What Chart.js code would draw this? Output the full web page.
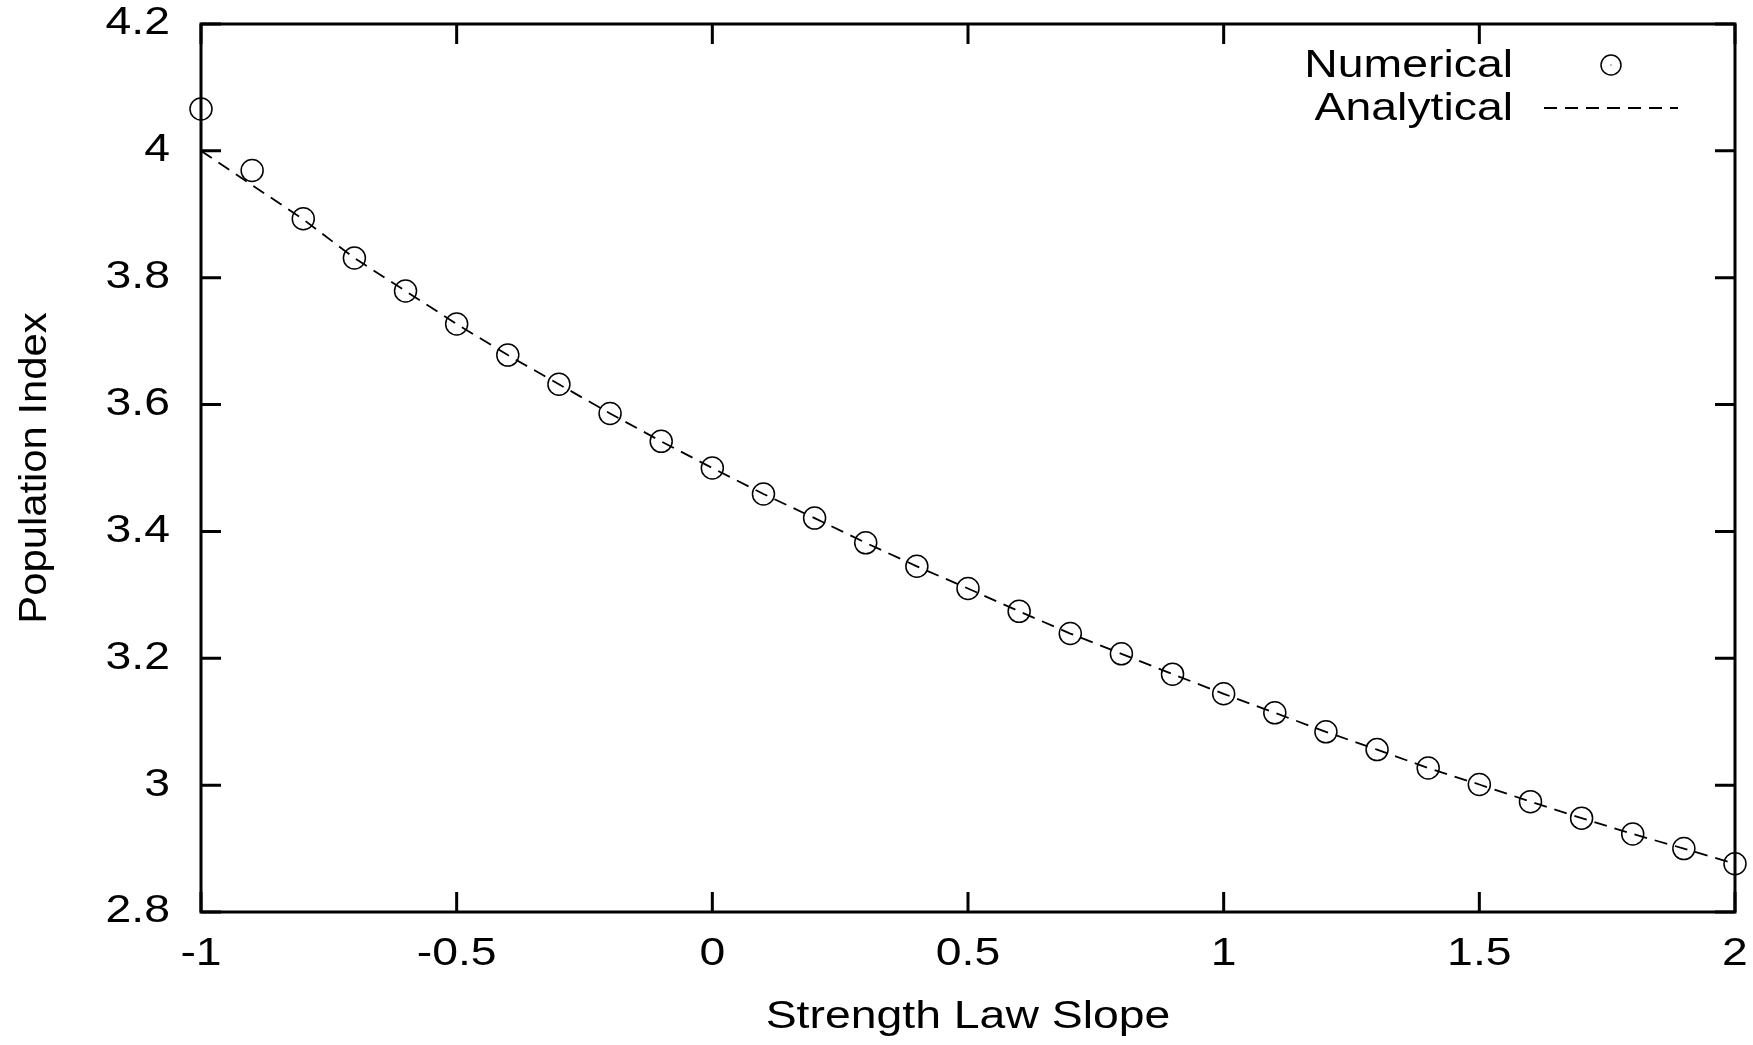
<!DOCTYPE html>
<html>
<head>
<meta charset="utf-8">
<script src="https://cdn.jsdelivr.net/npm/chart.js@4.4.0/dist/chart.umd.min.js"></script>
<style>
  html, body { margin: 0; padding: 0; background: #fff; }
  #wrap { width: 1753px; height: 1045px; }
</style>
</head>
<body>
<div id="wrap"><canvas id="myChart" width="1753" height="1045"></canvas></div>
<script>
// values
var slope = [-1, -0.9, -0.8, -0.7, -0.6, -0.5, -0.4, -0.3, -0.2, -0.1, 0,
  0.1, 0.2, 0.3, 0.4, 0.5, 0.6, 0.7, 0.8, 0.9, 1,
  1.1, 1.2, 1.3, 1.4, 1.5, 1.6, 1.7, 1.8, 1.9, 2];
var numerical = [4.066, 3.969, 3.893, 3.831, 3.779, 3.727, 3.678, 3.632, 3.586, 3.542, 3.500,
  3.459, 3.421, 3.382, 3.345, 3.310, 3.274, 3.239, 3.207, 3.175, 3.144,
  3.114, 3.084, 3.056, 3.027, 3.001, 2.974, 2.948, 2.923, 2.900, 2.876];
var analytical = [4.000, 3.946, 3.892, 3.831, 3.779, 3.727, 3.678, 3.632, 3.586, 3.542, 3.500,
  3.459, 3.421, 3.382, 3.345, 3.310, 3.274, 3.239, 3.207, 3.175, 3.144,
  3.114, 3.084, 3.056, 3.027, 3.001, 2.974, 2.948, 2.923, 2.900, 2.876];
var xTicks = [-1, -0.5, 0, 0.5, 1, 1.5, 2];
var yTicks = [2.8, 3, 3.2, 3.4, 3.6, 3.8, 4, 4.2];

var FONT = "'Liberation Sans', Arial, sans-serif";

function pairs(ys) {
  return slope.map(function (x, i) { return { x: x, y: ys[i] }; });
}

// the original gnuplot font is wider than Liberation Sans,
// so stretch text along its direction (a bit less for rotated text)
var canvasCtx = document.getElementById('myChart').getContext('2d');
var baseFill = canvasCtx.fillText.bind(canvasCtx);
var baseMeasure = canvasCtx.measureText.bind(canvasCtx);
function stretchFor(c) {
  var m = c.getTransform();
  return Math.abs(m.b) > 0.01 ? 1.1 : 1.22;
}
canvasCtx.fillText = function (text, x, y) {
  var k = stretchFor(this);
  this.save();
  this.translate(x, y);
  this.scale(k, 1);
  baseFill(text, 0, 0);
  this.restore();
};
canvasCtx.measureText = function (text) {
  var m = baseMeasure(text);
  return { width: m.width * 1.22, actualBoundingBoxAscent: m.actualBoundingBoxAscent,
    actualBoundingBoxDescent: m.actualBoundingBoxDescent };
};

// gnuplot style box, inward ticks on all four sides, legend top right
var gnuplotFrame = {
  id: 'gnuplotFrame',
  afterDraw: function (chart) {
    var ctx = chart.ctx;
    var a = chart.chartArea;
    var xs = chart.scales.x, ys = chart.scales.y;
    var tl = 20;
    ctx.save();
    ctx.strokeStyle = '#000';
    ctx.lineWidth = 3;
    ctx.beginPath();
    xTicks.forEach(function (v) {
      var px = xs.getPixelForValue(v);
      ctx.moveTo(px, a.bottom); ctx.lineTo(px, a.bottom - tl);
      ctx.moveTo(px, a.top); ctx.lineTo(px, a.top + tl);
    });
    yTicks.forEach(function (v) {
      var py = ys.getPixelForValue(v);
      ctx.moveTo(a.left, py); ctx.lineTo(a.left + tl, py);
      ctx.moveTo(a.right, py); ctx.lineTo(a.right - tl, py);
    });
    ctx.stroke();
    ctx.strokeRect(a.left, a.top, a.right - a.left, a.bottom - a.top);

    // legend
    var ds = chart.data.datasets;
    ctx.fillStyle = '#000';
    ctx.font = '38px ' + FONT;
    ctx.textAlign = 'right';
    ctx.textBaseline = 'middle';
    var tx = a.right - 222;
    ctx.fillText(ds[0].label, tx, a.top + 43);
    ctx.fillText(ds[1].label, tx, a.top + 86);
    ctx.lineWidth = 1.5;
    ctx.beginPath();
    ctx.arc(tx + 98, a.top + 41, 10, 0, Math.PI * 2);
    ctx.stroke();
    ctx.fillRect(tx + 97.5, a.top + 40.5, 1, 1);
    ctx.lineWidth = 1.8;
    ctx.setLineDash([13, 8]);
    ctx.beginPath();
    ctx.moveTo(tx + 31, a.top + 84);
    ctx.lineTo(tx + 165, a.top + 84);
    ctx.stroke();
    ctx.restore();
  }
};

var chart = new Chart("myChart", {
  type: 'line',
  data: {
    datasets: [{
        label: 'Numerical',
        data: pairs(numerical),
        showLine: false,
        pointStyle: 'circle',
        pointRadius: 11,
        pointBorderWidth: 1.5,
        pointBackgroundColor: 'rgba(0,0,0,0)',
        pointBorderColor: '#000',
        borderColor: '#000',
        clip: false
      },
      {
        label: 'Analytical',
        data: pairs(analytical),
        borderColor: '#000',
        borderWidth: 1.8,
        borderDash: [13, 8],
        pointRadius: 0,
        tension: 0,
        fill: false
      }
    ]
  },
  options: {
    responsive: false,
    animation: false,
    layout: { padding: { top: 24, right: 18, left: 0, bottom: 0 } },
    plugins: {
      legend: { display: false },
      tooltip: { enabled: false }
    },
    scales: {
      x: {
        type: 'linear',
        min: -1,
        max: 2,
        afterFit: function (s) { s.height = 133; s.paddingLeft = 0; s.paddingRight = 0; },
        afterBuildTicks: function (s) { s.ticks = xTicks.map(function (v) { return { value: v }; }); },
        grid: { display: false, drawTicks: false },
        border: { display: false },
        ticks: {
          padding: 20,
          color: '#000',
          font: { family: FONT, size: 38 },
          callback: function (v) { return String(v); }
        },
        title: {
          display: true,
          text: 'Strength Law Slope',
          color: '#000',
          font: { family: FONT, size: 38 },
          padding: { top: 0, bottom: 5 }
        }
      },
      y: {
        type: 'linear',
        min: 2.8,
        max: 4.2,
        afterFit: function (s) { s.width = 201; s.paddingTop = 0; s.paddingBottom = 0; },
        afterBuildTicks: function (s) { s.ticks = yTicks.map(function (v) { return { value: v }; }); },
        grid: { display: false, drawTicks: false },
        border: { display: false },
        ticks: {
          padding: 31,
          color: '#000',
          font: { family: FONT, size: 38 },
          callback: function (v) { return String(Number(v.toFixed(1))); }
        },
        title: {
          display: true,
          text: 'Population Index',
          color: '#000',
          font: { family: FONT, size: 38 },
          padding: { top: 13, bottom: 0 }
        }
      }
    }
  },
  plugins: [gnuplotFrame]
});
</script>
</body>
</html>
